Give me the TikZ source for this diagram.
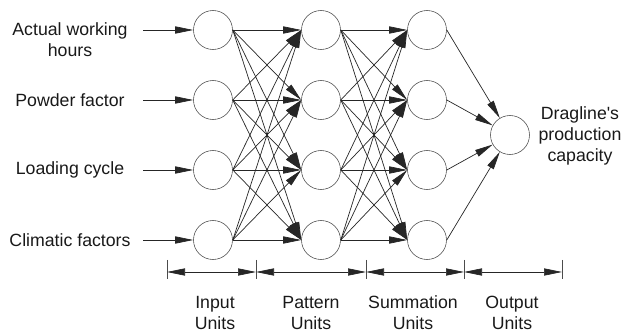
\documentclass[tikz,border=0pt]{standalone}
\usepackage{fontspec}
\setmainfont{Liberation Sans}
\usetikzlibrary{arrows.meta}
\tikzset{>={Triangle[length=0.45cm,width=0.18cm]}}
\tikzstyle{line} = [draw, ->, line width=0.5pt, black!85]
\tikzstyle{link} = [->, line width=0.5pt, black!85]

\begin{document}
\begin{tikzpicture}[auto,
	unit/.style={draw=black!70, circle, minimum size=0.975cm, inner sep=0pt},
	lbl/.style={align=center, text=black!90, font=\fontsize{12.6}{15}\selectfont}]
	\useasboundingbox (0,0) rectangle (15.675,-8.325);
	%% Input units
	\node [unit] (I1) at (5.325,-0.75) {};
	\node [unit] (I2) at (5.325,-2.5) {};
	\node [unit] (I3) at (5.325,-4.25) {};
	\node [unit] (I4) at (5.325,-6.0) {};
	%% Pattern units
	\node [unit] (P1) at (8.025,-0.75) {};
	\node [unit] (P2) at (8.025,-2.5) {};
	\node [unit] (P3) at (8.025,-4.25) {};
	\node [unit] (P4) at (8.025,-6.0) {};
	%% Summation units
	\node [unit] (S1) at (10.675,-0.75) {};
	\node [unit] (S2) at (10.675,-2.5) {};
	\node [unit] (S3) at (10.675,-4.25) {};
	\node [unit] (S4) at (10.675,-6.0) {};
	%% Output unit
	\node [unit] (O) at (12.75,-3.375) {};
	%% Labels
	\node [lbl] (X1) at (1.75,-0.99) {Actual working\\hours};
	\node [lbl] (X2) at (1.75,-2.5) {Powder factor};
	\node [lbl] (X3) at (1.75,-4.25) {Loading cycle};
	\node [lbl] (X4) at (1.75,-6.0) {Climatic factors};
	\node [lbl] (Y) at (14.5,-3.4) {Dragline\textquotesingle s\\production\\capacity};
	\coordinate (A1) at (3.575,-0.75);
	\coordinate (A2) at (3.575,-2.5);
	\coordinate (A3) at (3.575,-4.25);
	\coordinate (A4) at (3.575,-6.0);
	%% Arrows
	\path [line] (A1) to (I1.west);
	\path [line] (A2) to (I2.west);
	\path [line] (A3) to (I3.west);
	\path [line] (A4) to (I4.west);
	\path [link] (I1.east) edge (P1.west) edge (P2.west) edge (P3.west) edge (P4.west);
	\path [link] (I2.east) edge (P1.west) edge (P2.west) edge (P3.west) edge (P4.west);
	\path [link] (I3.east) edge (P1.west) edge (P2.west) edge (P3.west) edge (P4.west);
	\path [link] (I4.east) edge (P1.west) edge (P2.west) edge (P3.west) edge (P4.west);
	\path [link] (P1.east) edge (S1.west) edge (S2.west) edge (S3.west) edge (S4.west);
	\path [link] (P2.east) edge (S1.west) edge (S2.west) edge (S3.west) edge (S4.west);
	\path [link] (P3.east) edge (S1.west) edge (S2.west) edge (S3.west) edge (S4.west);
	\path [link] (P4.east) edge (S1.west) edge (S2.west) edge (S3.west) edge (S4.west);
	\path [line] (S1.east) to (O);
	\path [line] (S2.east) to (O);
	\path [line] (S3.east) to (O);
	\path [line] (S4.east) to (O);
	%% The layer scale
	\coordinate (T1) at (4.175,-6.8);
	\coordinate (T2) at (6.4,-6.8);
	\coordinate (T3) at (9.15,-6.8);
	\coordinate (T4) at (11.6,-6.8);
	\coordinate (T5) at (14.05,-6.8);
	\foreach \t in {T1,T2,T3,T4,T5}
	\draw [black!70, line width=0.5pt] (\t) ++(0,0.3) -- ++(0,-0.48);
	\path [line, <->] (T1) to (T2);
	\path [line, <->] (T2) to (T3);
	\path [line, <->] (T3) to (T4);
	\path [line, <->] (T4) to (T5);
	\node [lbl] (L1) at (5.375,-7.82) {Input\\Units};
	\node [lbl] (L2) at (7.775,-7.82) {Pattern\\Units};
	\node [lbl] (L3) at (10.325,-7.82) {Summation\\Units};
	\node [lbl] (L4) at (12.8,-7.82) {Output\\Units};
\end{tikzpicture}
\end{document}
